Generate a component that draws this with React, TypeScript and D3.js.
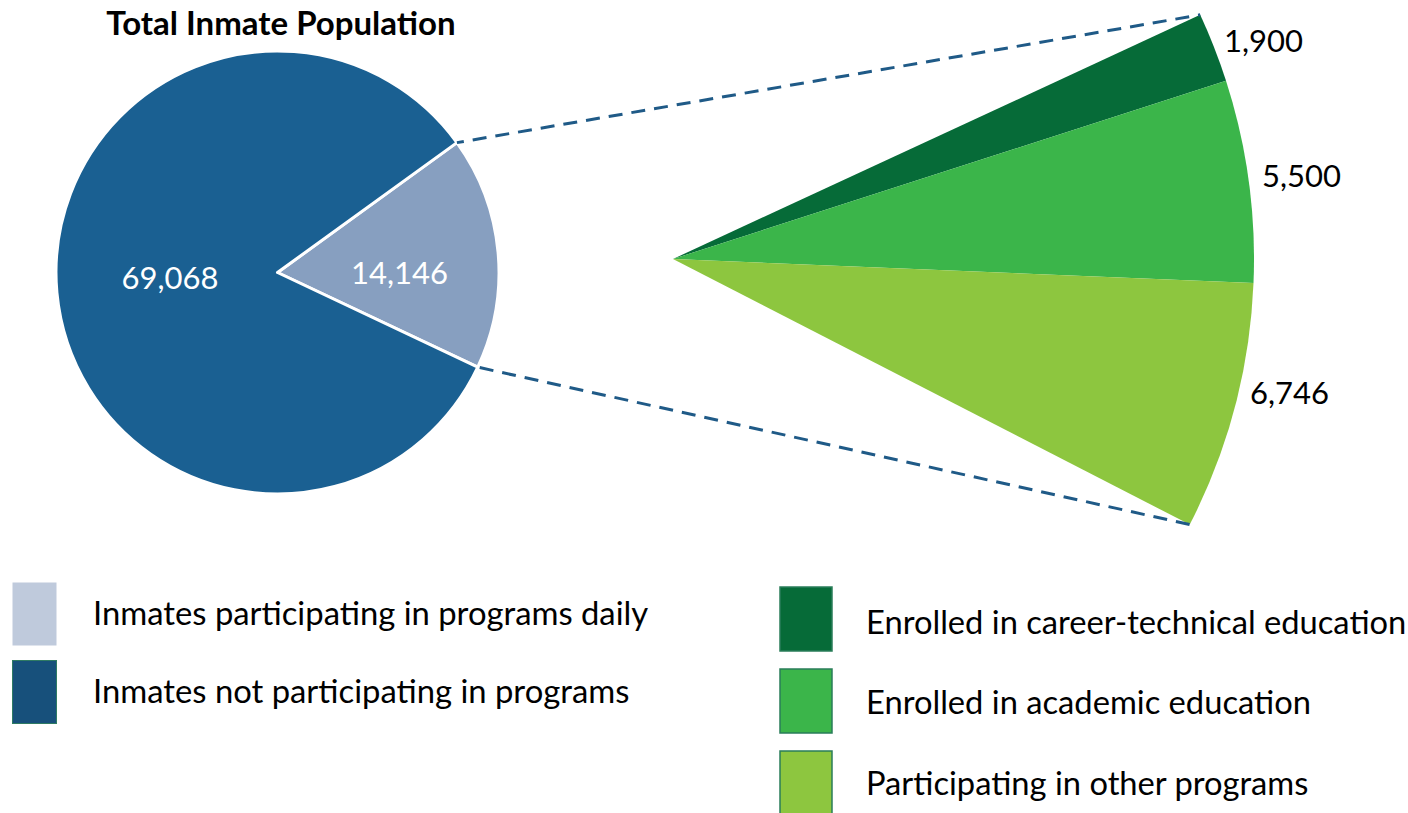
import React from "react";
import * as d3 from "d3";

const pieLabels = ["Inmates participating in programs daily", "Inmates not participating in programs"];
const pieValues = [14146, 69068];
const pieColors = ["#879fc0", "#1a6092"];
const pieLegendColors = ["#bfcadc", "#17507b"];

const fanLabels = ["Enrolled in career-technical education", "Enrolled in academic education", "Participating in other programs"];
const fanValues = [1900, 5500, 6746];
const fanColors = ["#066b38", "#3bb54a", "#8dc63f"];

const title = "Total Inmate Population";
const fmt = d3.format(",");
const FONT = "Lato, 'Open Sans', sans-serif";
const deg = Math.PI / 180;

export default function App() {
  const pc = [277.5, 272.5];
  const pr = 221.5;
  const pieStart = 54.1 * deg;
  const pie = d3.pie<number>().sort(null).startAngle(pieStart).endAngle(pieStart + 2 * Math.PI)(pieValues);
  const arc = d3.arc<d3.PieArcDatum<number>>().innerRadius(0).outerRadius(pr);

  const fc = [673, 259];
  const fr = 581;
  const fanStart = 65.15 * deg;
  const fanEnd = 117.2 * deg;
  const fan = d3.pie<number>().sort(null).startAngle(fanStart).endAngle(fanEnd)(fanValues);
  const farc = d3.arc<d3.PieArcDatum<number>>().innerRadius(0).outerRadius(fr);

  const pt = (c: number[], r: number, a: number) => [c[0] + r * Math.sin(a), c[1] - r * Math.cos(a)];
  const light = pie[0];
  const p1 = pt(pc, pr, light.startAngle);
  const p2 = pt(pc, pr, light.endAngle);
  const f1 = pt(fc, fr, fanStart);
  const f2 = pt(fc, fr, fanEnd);

  const pieLabelPos = [[399.5, 272], [170, 277]];
  const fanLabelPos = [[1224, 40], [1262, 175], [1250, 392]];

  return (
    <svg width={1408} height={813} style={{ position: "absolute", left: 0, top: 0, background: "#fff" }} fontFamily={FONT}>
      <text x={281} y={22} textAnchor="middle" dominantBaseline="central" fontWeight="bold" fontSize={33}>{title}</text>
      <g transform={`translate(${pc[0]},${pc[1]})`}>
        {pie.map((d, i) => (
          <path key={i} d={arc(d) || ""} fill={pieColors[i]} stroke="#fff" strokeWidth={3} strokeLinejoin="round" />
        ))}
      </g>
      {pie.map((d, i) => (
        <text key={i} x={pieLabelPos[i][0]} y={pieLabelPos[i][1]} textAnchor="middle" dominantBaseline="central" fill="#fff" fontSize={31}>{fmt(d.data)}</text>
      ))}
      <g transform={`translate(${fc[0]},${fc[1]})`}>
        {fan.map((d, i) => (
          <path key={i} d={farc(d) || ""} fill={fanColors[i]} />
        ))}
      </g>
      {fan.map((d, i) => (
        <text key={i} x={fanLabelPos[i][0]} y={fanLabelPos[i][1]} textAnchor="start" dominantBaseline="central" fill="#000" fontSize={31}>{fmt(d.data)}</text>
      ))}
      <line x1={p1[0]} y1={p1[1]} x2={f1[0]} y2={f1[1]} stroke="#1f5a87" strokeWidth={3} strokeDasharray="14 9" strokeDashoffset={-16} />
      <line x1={p2[0]} y1={p2[1]} x2={f2[0]} y2={f2[1]} stroke="#1f5a87" strokeWidth={3} strokeDasharray="14 9" strokeDashoffset={-2} />
      {pieLabels.map((l, i) => (
        <g key={i}>
          <rect x={12.5} y={582.5 + i * 78} width={44} height={63} fill={pieLegendColors[i]} stroke={i === 1 ? "#2f7b63" : "none"} strokeWidth={1} />
          <text x={93} y={612 + i * 78} dominantBaseline="central" fontSize={32.8}>{l}</text>
        </g>
      ))}
      {fanLabels.map((l, i) => (
        <g key={i}>
          <rect x={780} y={587 + i * 82} width={52} height={64} fill={fanColors[i]} stroke="#2a7d5a" strokeWidth={1.5} />
          <text x={866} y={621 + i * 80.5} dominantBaseline="central" fontSize={32.7}>{l}</text>
        </g>
      ))}
    </svg>
  );
}
